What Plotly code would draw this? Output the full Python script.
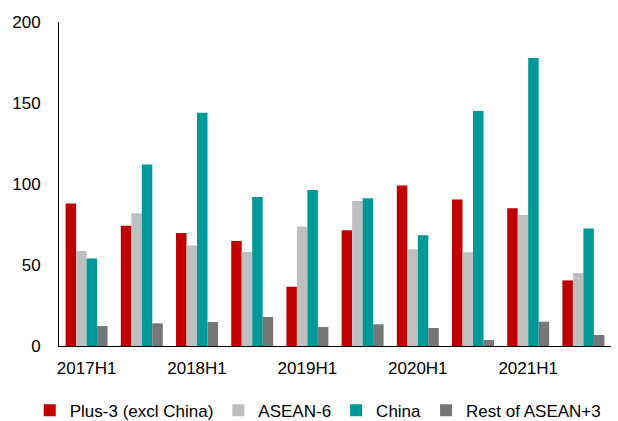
import plotly.graph_objects as go

categories = ["2017H1", "2017H2", "2018H1", "2018H2", "2019H1",
              "2019H2", "2020H1", "2020H2", "2021H1", "2021H2"]
tick_labels = ["2017H1", "2018H1", "2019H1", "2020H1", "2021H1"]

plus3 = [88, 74.3, 69.8, 64.8, 36.6, 71.4, 99, 90.5, 85, 40.5]
asean6 = [58.6, 82, 62, 58, 73.7, 89.5, 59.7, 57.8, 80.9, 45]
china = [54, 112, 144, 92, 96.3, 91.2, 68.3, 145, 177.8, 72.6]
rest = [12.3, 14, 14.8, 17.9, 11.7, 13.4, 11.1, 3.7, 15, 6.8]

series = [
    ("Plus-3 (excl China)", plus3, "#C00000"),
    ("ASEAN-6", asean6, "#BFBFBF"),
    ("China", china, "#009999"),
    ("Rest of ASEAN+3", rest, "#767676"),
]

fig = go.Figure()
for name, vals, color in series:
    fig.add_trace(go.Bar(x=categories, y=vals, name=name,
                         marker=dict(color=color, line=dict(width=0))))

font = dict(family="Liberation Sans, Arial, sans-serif", size=17, color="#000000")
fig.update_layout(
    width=618, height=421,
    margin=dict(l=59, r=7, t=22, b=75, autoexpand=False),
    paper_bgcolor="white", plot_bgcolor="white",
    barmode="group", bargap=0.24, bargroupgap=0,
    font=font,
    showlegend=True,
    legend=dict(orientation="h", x=-0.053, xanchor="left",
                y=-0.2, yanchor="middle",
                font=font, itemwidth=30, traceorder="normal",
                borderwidth=0, tracegroupgap=0),
    xaxis=dict(type="category", tickmode="array", tickvals=tick_labels, ticktext=tick_labels,
               showline=True, linecolor="#000000", linewidth=1, ticks="",
               showgrid=False, ticklabelstandoff=7, tickfont=font),
    yaxis=dict(range=[0, 200], dtick=50, showline=True, linecolor="#000000", linewidth=1,
               ticks="", showgrid=False, zeroline=False, ticklabelstandoff=14, tickfont=font),
)

fig.write_html("out.html")
